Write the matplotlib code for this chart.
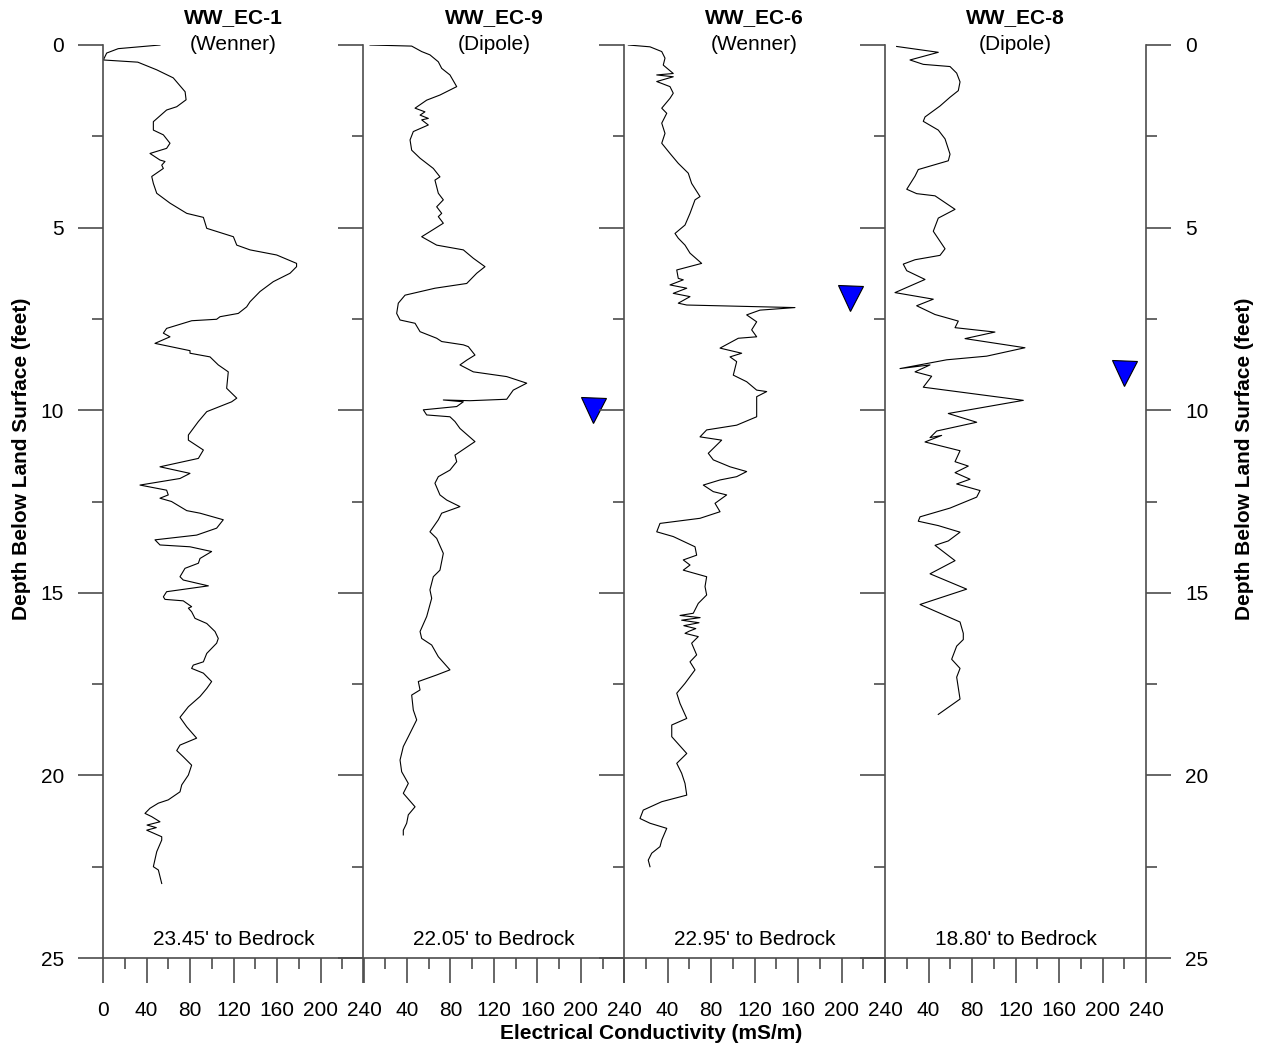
import matplotlib.pyplot as plt
from matplotlib.ticker import MultipleLocator

plt.rcParams['font.family'] = ['Liberation Sans', 'DejaVu Sans']

# well names, electrode array and depth to bedrock
wells = ["WW_EC-1", "WW_EC-9", "WW_EC-6", "WW_EC-8"]
arrays = ["(Wenner)", "(Dipole)", "(Wenner)", "(Dipole)"]
bedrock = ["23.45' to Bedrock", "22.05' to Bedrock", "22.95' to Bedrock", "18.80' to Bedrock"]

# EC logs: depth below land surface (ft) and conductivity (mS/m)
ec1_depth = [0.0, 0.1, 0.22, 0.41, 0.47, 0.68, 0.9, 1.28, 1.5, 1.69, 1.78, 2.1, 2.33, 2.46, 2.69, 2.83,
             2.97, 3.15, 3.19, 3.29, 3.38, 3.6, 3.79, 4.06, 4.33, 4.61, 4.72, 5.02, 5.25, 5.48, 5.61,
             5.75, 5.98, 6.07, 6.25, 6.48, 6.75, 7.03, 7.17, 7.35, 7.44, 7.51, 7.55, 7.76, 7.89, 7.99,
             8.17, 8.37, 8.44, 8.54, 8.76, 8.95, 9.4, 9.67, 9.77, 10.04, 10.31, 10.68, 10.82, 11.09,
             11.32, 11.55, 11.73, 11.87, 12.05, 12.19, 12.32, 12.41, 12.5, 12.64, 12.75, 12.82, 13.0,
             13.23, 13.42, 13.55, 13.69, 13.74, 13.87, 14.06, 14.19, 14.33, 14.56, 14.65, 14.81,
             14.97, 15.11, 15.18, 15.22, 15.38, 15.42, 15.52, 15.7, 15.84, 16.06, 16.25, 16.38,
             16.66, 16.89, 16.98, 17.07, 17.2, 17.43, 17.62, 17.84, 18.12, 18.41, 18.67, 18.98,
             19.17, 19.32, 19.49, 19.72, 19.99, 20.26, 20.45, 20.67, 20.76, 20.9, 21.04, 21.13,
             21.27, 21.36, 21.43, 21.5, 21.68, 21.77, 22.09, 22.5, 22.59, 22.96]
ec1_cond = [52.4, 14, 3.4, 0.3, 32, 49.4, 64.6, 75.5, 76.4, 67.8, 58.5, 46.3, 46.3, 55.5, 61.6, 58.5,
            43.2, 52.4, 57, 54, 55.5, 44.8, 46.3, 49.4, 61.6, 77, 92.3, 95.4, 119.9, 123, 135.2,
            159.7, 178, 178, 172, 156.6, 144.4, 135.2, 132.1, 124.4, 107.6, 104.5, 81.6, 58.5, 55.5, 61.6,
            47.8, 80, 80, 98.4, 106, 115.2, 113.7, 123, 118.3, 95.4, 87.7, 78.5, 78.5, 92.3,
            87.7, 52.4, 80, 70.8, 34, 58.5, 60, 52.4, 63, 70.8, 77, 89.2, 110.6,
            104.5, 86.1, 47.8, 52.4, 80, 99.9, 89.2, 87.7, 75.4, 70.8, 73.8, 96.9,
            58.5, 55.5, 57, 73.8, 81.5, 78.5, 81.5, 84.6, 95.4, 103, 106, 104.5,
            95.4, 92.3, 83, 81.5, 92.3, 99.9, 95.4, 89.2, 78.5, 70.8, 77, 86.1,
            70.8, 67.8, 73.8, 81.5, 78.5, 72.4, 70.8, 60, 50.9, 43.2, 38.6, 44.8,
            52.4, 40.5, 49, 40.2, 54, 54, 49.4, 46.3, 50.9, 54]

ec9_depth = [0.0, 0.03, 0.18, 0.27, 0.46, 0.64, 0.82, 1.14, 1.37, 1.51, 1.73, 1.83, 1.92, 2.01, 2.05,
             2.19, 2.37, 2.6, 2.88, 3.1, 3.38, 3.61, 3.7, 4.06, 4.24, 4.43, 4.61, 4.7, 4.88, 5.11,
             5.25, 5.48, 5.61, 5.84, 6.07, 6.25, 6.53, 6.66, 6.85, 7.07, 7.35, 7.53, 7.62, 7.85, 8.03,
             8.12, 8.21, 8.26, 8.49, 8.63, 8.76, 8.95, 9.08, 9.26, 9.45, 9.7, 9.74, 9.72, 9.77, 9.9,
             9.99, 10.13, 10.18, 10.31, 10.5, 10.86, 11.23, 11.41, 11.64, 11.82, 12.0, 12.32, 12.46,
             12.64, 12.82, 13.0, 13.33, 13.51, 13.92, 14.38, 14.56, 14.92, 15.15, 15.65, 16.06, 16.25,
             16.43, 16.75, 17.11, 17.25, 17.43, 17.66, 17.8, 18.21, 18.48, 18.94, 19.21, 19.58, 19.9,
             20.22, 20.49, 20.86, 21.08, 21.31, 21.5, 21.63]
ec9_cond = [6, 44.3, 53.5, 61.1, 68.8, 71.9, 79.5, 85.7, 70.3, 58.1, 47.4, 56.5, 52, 59.6, 53.5,
            59.6, 45.8, 42.8, 44.3, 52, 64.2, 70.3, 65.7, 68.8, 73.4, 67.3, 71.9, 68.8, 73.4, 61.1,
            53.5, 67.3, 91.8, 101, 111.7, 104.1, 94.9, 65.7, 38.2, 32, 30.5, 33.6, 47.4, 52, 67.3,
            71.9, 91.8, 96.4, 102.5, 94.9, 88.7, 101, 131.7, 150.1, 137.7, 131.7, 97.9, 73.4, 91.8, 85.7,
            55, 58.1, 79.5, 84.1, 88.7, 102.5, 84.1, 85.7, 79.5, 68.8, 65.7, 70.3, 76.5,
            88.7, 71.9, 68.8, 61.1, 67.3, 73.4, 70.3, 64.2, 61.1, 62.7, 58.1, 52, 53.5,
            62.7, 68.8, 79.5, 67.3, 50.4, 52, 44.3, 45.8, 48.9, 41.2, 36.6, 33.6, 35.1,
            41.2, 36.6, 47.4, 41.2, 39.7, 36.6, 36.6]

ec6_depth = [0.0, 0.05, 0.18, 0.36, 0.55, 0.78, 0.82, 0.87, 1.0, 1.14, 1.32, 1.46, 1.73, 1.87, 2.14,
             2.42, 2.69, 2.97, 3.24, 3.51, 3.79, 4.15, 4.24, 4.61, 4.93, 5.16, 5.29, 5.48, 5.7, 5.98,
             6.16, 6.39, 6.43, 6.57, 6.66, 6.8, 6.89, 7.07, 7.12, 7.19, 7.26, 7.39, 7.58, 7.8, 7.99,
             8.03, 8.3, 8.44, 8.54, 8.67, 9.04, 9.22, 9.45, 9.49, 9.63, 10.18, 10.41, 10.54, 10.73,
             10.82, 11.18, 11.36, 11.55, 11.68, 11.82, 11.91, 12.05, 12.23, 12.32, 12.55, 12.78, 12.96,
             13.1, 13.33, 13.46, 13.74, 13.97, 14.1, 14.24, 14.38, 14.56, 14.83, 15.06, 15.29, 15.56,
             15.62, 15.68, 15.75, 15.82, 15.9, 15.98, 16.05, 16.11, 16.2, 16.38, 16.7, 16.89, 17.11,
             17.48, 17.75, 18.03, 18.44, 18.62, 18.94, 19.4, 19.67, 19.94, 20.22, 20.54, 20.72, 20.95,
             21.18, 21.31, 21.45, 21.77, 21.95, 22.13, 22.32, 22.5]
ec6_cond = [4, 23.9, 34.7, 37.7, 36.1, 45.3, 30.1, 45.3, 30.1, 42.3, 45.3, 42.3, 34.7, 39.3, 34.7,
            37.7, 34.7, 42.3, 49.9, 59.1, 62.2, 69.9, 65.3, 60.7, 56.1, 46.9, 49.9, 56.1, 60.7, 71.4,
            48.5, 49.9, 54.5, 42.3, 57.7, 45.3, 60.7, 49.9, 57.7, 157.2, 125, 112.8, 122, 117.4, 122,
            105.1, 88.3, 108.2, 97.5, 103.6, 100.5, 112.8, 122, 131.2, 122, 122, 103.6, 76, 69.9,
            89.8, 77.5, 82.1, 97.5, 112.8, 103.6, 88.3, 72.9, 82.1, 94.4, 83.7, 88.3, 69.9,
            33.1, 30.1, 45.3, 65.3, 66.8, 54.5, 60.7, 54.5, 76, 74.5, 76, 68.3, 63.7,
            51.5, 70, 53, 69, 55, 66, 60, 56.1, 68.3, 62.2, 66.8, 60.7, 65.3,
            56.1, 48.5, 51.5, 57.7, 43.9, 43.9, 57.7, 48.5, 53, 56.1, 57.7, 34.7, 17.7,
            14.7, 23.9, 39.3, 34.7, 33.1, 25.5, 22.3, 23.9]

ec8_depth = [0.04, 0.2, 0.41, 0.53, 0.59, 0.77, 1.01, 1.25, 1.43, 1.67, 1.97, 2.09, 2.33, 2.57, 2.99,
             3.17, 3.29, 3.41, 3.59, 3.95, 4.07, 4.13, 4.5, 4.74, 5.1, 5.58, 5.76, 5.88, 6.0, 6.18,
             6.42, 6.78, 6.96, 7.14, 7.38, 7.56, 7.74, 7.86, 8.04, 8.29, 8.52, 8.62, 8.86, 8.76, 8.95,
             9.07, 9.37, 9.73, 10.09, 10.33, 10.57, 10.75, 10.69, 10.87, 11.11, 11.41, 11.53, 11.71,
             11.89, 12.02, 12.2, 12.38, 12.68, 12.92, 13.04, 13.16, 13.34, 13.58, 13.7, 14.12, 14.48,
             14.9, 15.32, 15.8, 16.11, 16.28, 16.46, 16.82, 17.07, 17.31, 17.91, 18.33]
ec8_cond = [10.7, 49, 23, 35.2, 59.8, 65.9, 69, 67.4, 59.8, 50.6, 36.8, 35.2, 49, 55.2, 59.8,
            58.2, 44.4, 30.6, 27.6, 20, 29.1, 46, 64.4, 49, 44.4, 55.2, 50.6, 27.6, 16.8, 20,
            36.8, 9.2, 44.4, 29.1, 46, 67.4, 64.4, 101.1, 73.6, 128.7, 93.5, 56.7, 13.8, 41.4, 27.6,
            42.9, 35.2, 127.2, 58.2, 84.3, 47.5, 41.4, 52.1, 36.8, 69, 64.4, 76.6, 64.4,
            78.2, 65.9, 87.4, 84.3, 59.8, 32.2, 30.6, 49, 69, 58.2, 46, 64.4, 41.4,
            75.1, 32.2, 69, 72, 72, 65.9, 61.3, 69, 65.9, 69, 49]

depths = [ec1_depth, ec9_depth, ec6_depth, ec8_depth]
conds = [ec1_cond, ec9_cond, ec6_cond, ec8_cond]

# water level (ft) where measured, and where the marker sits across the track
water_level = [None, 10.0, 6.93, 8.97]
marker_x = [None, 211, 208, 220]

W, H = 1267, 1049
fig = plt.figure(figsize=(W / 100, H / 100), dpi=100)

spine_col = '#4d4d4d'
fs = 15
left_px = [103, 363.5, 624, 885]
track_w = 261

for i in range(4):
    ax = fig.add_axes([left_px[i] / W, 1 - 958 / H, track_w / W, 913 / H])
    ax.plot(conds[i], depths[i], color='black', lw=0.8)
    if water_level[i] is not None:
        ax.plot(marker_x[i], water_level[i], marker='v', ms=18, mfc='#0000ff',
                mec='black', mew=0.8, clip_on=False)

    ax.set_xlim(0, 240)
    ax.set_ylim(25, 0)

    ax.spines['top'].set_visible(False)
    ax.spines['right'].set_visible(i == 3)
    for s in ax.spines.values():
        s.set_color(spine_col)
        s.set_linewidth(1.2)

    ax.xaxis.set_major_locator(MultipleLocator(40))
    ax.xaxis.set_minor_locator(MultipleLocator(20))
    ax.yaxis.set_major_locator(MultipleLocator(5))
    ax.yaxis.set_minor_locator(MultipleLocator(2.5))
    ax.tick_params(which='major', direction='out', length=18, width=1.2, color=spine_col,
                   labelsize=fs)
    ax.tick_params(which='minor', direction='out', length=8, width=1.2, color=spine_col)
    ax.tick_params(axis='x', which='major', pad=13)
    ax.tick_params(axis='y', which='major', pad=10)

    xt = list(range(0, 241, 40))
    ax.set_xticks(xt)
    ax.set_xticklabels([str(v) if (i == 0 or v > 0) else '' for v in xt])

    if i == 0:
        ax.set_yticks(range(0, 26, 5))
    else:
        ax.tick_params(axis='y', labelleft=False)
    if i == 3:
        ax.tick_params(axis='y', which='both', right=True, labelright=True)

    ax.text(0.5, 1.0244, wells[i], transform=ax.transAxes, ha='center', va='baseline',
            fontsize=fs, fontweight='bold')
    ax.text(0.5, 0.9945, arrays[i], transform=ax.transAxes, ha='center', va='baseline',
            fontsize=fs)
    ax.text(120, 24.64, bedrock[i], ha='center', va='baseline', fontsize=fs)

fig.text(651.5 / W, 1 - 1039 / H, "Electrical Conductivity (mS/m)", ha='center', va='baseline',
         fontsize=fs, fontweight='bold')
fig.text(22 / W, 1 - 459 / H, "Depth Below Land Surface (feet)", rotation=90, ha='center',
         va='center', fontsize=fs, fontweight='bold')
fig.text(1245 / W, 1 - 459 / H, "Depth Below Land Surface (feet)", rotation=90, ha='center',
         va='center', fontsize=fs, fontweight='bold')

fig.savefig('out.png', dpi=100)
